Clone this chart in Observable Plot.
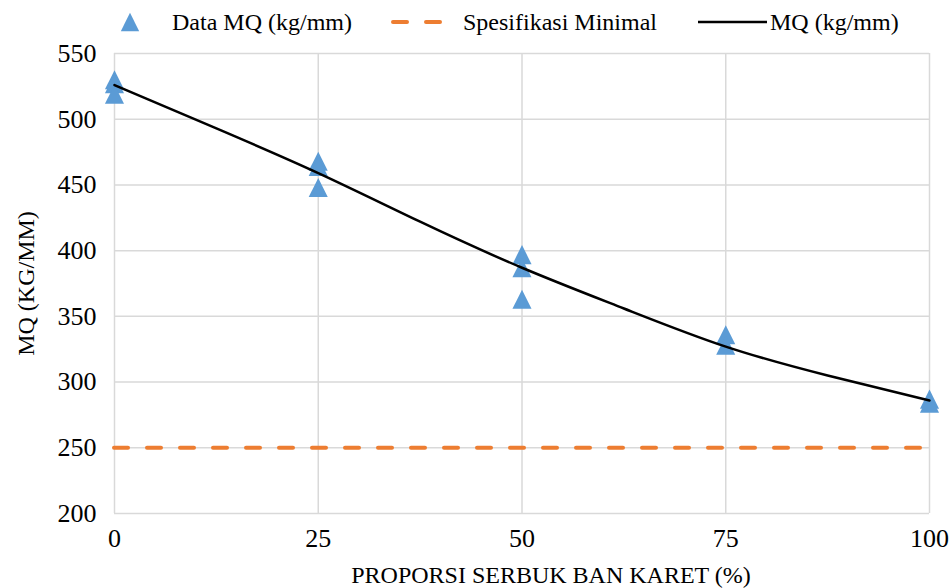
<!DOCTYPE html>
<html>
<head>
<meta charset="utf-8">
<script src="https://cdn.jsdelivr.net/npm/d3@7"></script>
<script src="https://cdn.jsdelivr.net/npm/@observablehq/plot@0.6"></script>
<style>
  html, body { margin: 0; padding: 0; background: #fff; }
  #chart { position: relative; width: 952px; height: 588px; font-family: 'Liberation Serif', 'Times New Roman', serif; }
  #chart svg, #chart svg g, #chart svg text { font-family: 'Liberation Serif', 'Times New Roman', serif !important; }
  #legend { position: absolute; left: 0; top: 0; }
</style>
</head>
<body>
<div id="chart"></div>
<script>
// Measured MQ values (kg/mm) per rubber-crumb proportion (%)
const proporsi = [0, 0, 0, 25, 25, 25, 50, 50, 50, 75, 75, 100, 100];
const mqData = [530, 527, 519, 468, 464, 448, 397, 387, 363, 336, 328, 287, 284];

// Trend curve MQ (kg/mm)
const trendProporsi = [0, 12.5, 25, 37.5, 50, 62.5, 75, 87.5, 100];
const trendMQ = [526, 493, 459, 422, 387, 356, 327, 305, 286];

// Minimum specification
const spesifikasiMinimal = 250;

// Axis ticks and titles
const xTicks = [0, 25, 50, 75, 100];
const yTicks = [200, 250, 300, 350, 400, 450, 500, 550];
const xTitle = "PROPORSI SERBUK BAN KARET (%)";
const yTitle = "MQ (KG/MM)";

const dataRows = proporsi.map((p, i) => ({p, mq: mqData[i]}));
const trendRows = trendProporsi.map((p, i) => ({p, mq: trendMQ[i]}));

const serif = "'Liberation Serif', 'Times New Roman', serif";
const blue = "#5B9BD5";
const orange = "#ED7D31";
const gridColor = "#d9d9d9";

// Upright triangle centred on its bounding box
const triangle = {
  draw(context, size) {
    const a = Math.sqrt(size / Math.PI);
    context.moveTo(0, -a * 1.15);
    context.lineTo(a * 1.15, a * 1.15);
    context.lineTo(-a * 1.15, a * 1.15);
    context.closePath();
  }
};

const plot = Plot.plot({
  width: 952,
  height: 588,
  marginLeft: 114,
  marginRight: 23,
  marginTop: 53,
  marginBottom: 75,
  style: {fontFamily: serif, fontSize: "24px", color: "#000", background: "#fff", overflow: "visible"},
  x: {domain: [0, 100]},
  y: {domain: [200, 550]},
  marks: [
    Plot.gridX(xTicks, {stroke: gridColor, strokeOpacity: 1, strokeWidth: 1.5}),
    Plot.gridY(yTicks, {stroke: gridColor, strokeOpacity: 1, strokeWidth: 1.5}),
    Plot.axisX(xTicks, {tickSize: 0, tickPadding: 15, fontSize: 26, label: null}),
    Plot.axisY(yTicks, {tickSize: 0, tickPadding: 18, fontSize: 26, label: null}),
    Plot.text([xTitle], {frameAnchor: "bottom", text: d => d, textAnchor: "middle", lineAnchor: "bottom", dx: 29, dy: 69, fontSize: 24, fill: "#000"}),
    Plot.axisY({tickSize: 0, ticks: [], fontSize: 24, label: yTitle, labelAnchor: "center", labelArrow: "none", labelOffset: 98}),
    Plot.ruleY([spesifikasiMinimal], {stroke: orange, strokeWidth: 4, strokeDasharray: "14,19", strokeLinecap: "round"}),
    Plot.dot(dataRows, {x: "p", y: "mq", symbol: triangle, r: 8.3, fill: blue, stroke: "none"}),
    Plot.line(trendRows, {x: "p", y: "mq", curve: "natural", stroke: "#000", strokeWidth: 2.5})
  ]
});

const chart = document.getElementById("chart");
chart.appendChild(plot);

// Legend row above the plot area
const legend = d3.select(chart).append("svg")
  .attr("id", "legend")
  .attr("width", 952).attr("height", 48)
  .style("font-size", "24px");

legend.append("path")
  .attr("transform", "translate(130,22)")
  .attr("d", "M0,-9.2L9.2,9.2L-9.2,9.2Z")
  .attr("fill", blue);
legend.append("text").attr("x", 172).attr("y", 30).text("Data MQ (kg/mm)");

legend.append("line")
  .attr("x1", 393).attr("x2", 440).attr("y1", 22).attr("y2", 22)
  .attr("stroke", orange).attr("stroke-width", 4)
  .attr("stroke-dasharray", "14,19").attr("stroke-linecap", "round");
legend.append("text").attr("x", 463).attr("y", 30).text("Spesifikasi Minimal");

legend.append("line")
  .attr("x1", 698).attr("x2", 767).attr("y1", 22).attr("y2", 22)
  .attr("stroke", "#000").attr("stroke-width", 2.5);
legend.append("text").attr("x", 770).attr("y", 30).text("MQ (kg/mm)");
</script>
</body>
</html>
